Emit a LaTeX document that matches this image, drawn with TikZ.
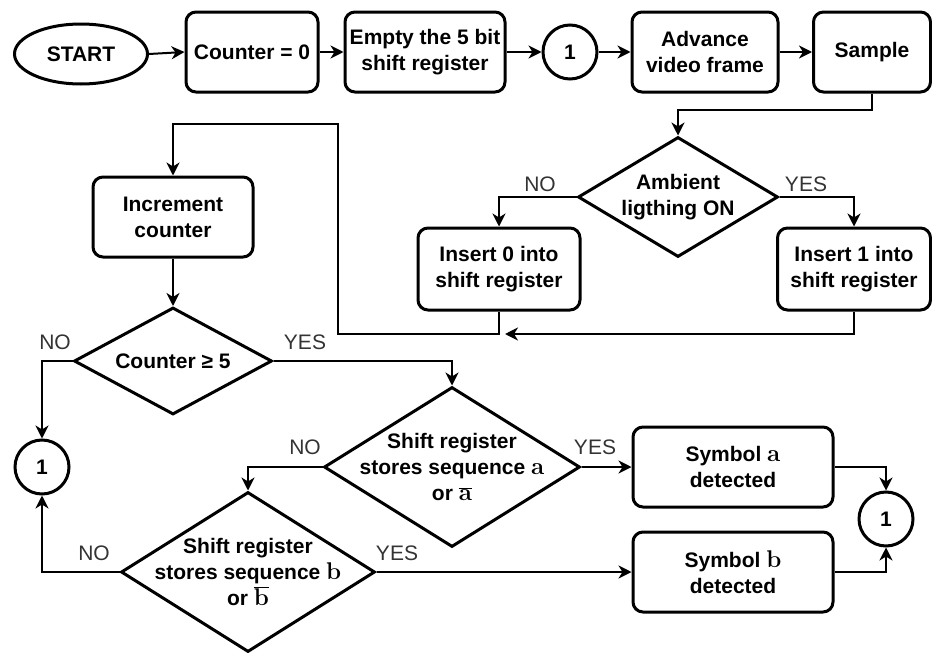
\RequirePackage{fix-cm}
\documentclass[tikz,border=0pt]{standalone}
\usepackage[no-math]{fontspec}
\setmainfont{Liberation Sans}
\newfontfamily\lmrom[Scale=1.15]{Latin Modern Roman}
\newcommand{\symA}{{\lmrom\bfseries a}}
\newcommand{\symB}{{\lmrom\bfseries b}}
\usetikzlibrary{shapes.geometric,arrows.meta}
\begin{document}
\begin{tikzpicture}[x=1pt,y=-1pt,
  bigfont/.style={font=\bfseries\fontsize{21}{26}\selectfont},
  box/.style={draw, line width=3pt, rounded corners=10pt, align=center, bigfont, inner sep=0pt, minimum height=80pt},
  dia/.style={draw, diamond, line width=3pt, inner sep=0pt},
  dtext/.style={align=center, bigfont, inner sep=0pt},
  circ/.style={draw, circle, line width=3pt, minimum size=54pt, inner sep=0pt, bigfont},
  conn/.style={line width=2pt, -{Stealth[length=13pt,width=13pt,inset=4pt]}},
  lbl/.style={font=\fontsize{21}{26}\selectfont, text=black!80, inner sep=0pt}
]
\useasboundingbox (0,0) rectangle (932,653);

% top row
\node[draw, ellipse, line width=3pt, minimum width=133pt, minimum height=60pt, bigfont, inner sep=0pt] (start) at (81,54) {START};
\node[box, minimum width=132pt] (c0) at (252,52) {Counter = 0};
\node[box, minimum width=160pt] (empty) at (425,52) {Empty the 5 bit\\shift register};
\node[circ] (k1) at (570,52) {1};
\node[box, minimum width=146pt] (adv) at (705,52) {Advance\\video frame};
\node[box, minimum width=117pt] (sample) at (872,52) {Sample};

% ambient decision
\node[dia, minimum width=200pt, minimum height=120pt] (amb) at (678,197) {};
\node[dtext] (ambT) at (amb.center) {Ambient\\ligthing ON};
\node[box, minimum width=162pt, minimum height=82pt] (in0) at (499,269) {Insert 0 into\\shift register};
\node[box, minimum width=153pt, minimum height=82pt] (in1) at (854,269) {Insert 1 into\\shift register};

% increment
\node[box, minimum width=160pt] (inc) at (173,217) {Increment\\counter};
\node[dia, minimum width=198pt, minimum height=107pt] (cnt) at (173,361) {};
\node[dtext] (cntT) at (cnt.center) {Counter ≥ 5};

% connector circles
\node[circ] (kL) at (42,467) {1};
\node[circ] (kR) at (886,519) {1};

% sequence decisions
\node[dia, minimum width=256pt, minimum height=160pt] (da) at (452,467) {};
\node[dtext] (daT) at (da.center) {Shift register\\stores sequence \symA\\or $\overline{\hbox{\symA}}$};
\node[dia, minimum width=254pt, minimum height=160pt] (db) at (248,572) {};
\node[dtext] (dbT) at (db.center) {Shift register\\stores sequence \symB\\or $\overline{\hbox{\symB}}$};

\node[box, minimum width=200pt] (syma) at (733,467) {Symbol \symA\\detected};
\node[box, minimum width=200pt] (symb) at (733,572) {Symbol \symB\\detected};

% coordinates
\coordinate (s1) at (872,110);
\coordinate (m1) at (505,334);
\coordinate (lp1) at (338,334);
\coordinate (lp2) at (173,124);

% edges
\draw[conn] (start.east) -- (c0.west);
\draw[conn] (c0.east) -- (empty.west);
\draw[conn] (empty.east) -- (k1.west);
\draw[conn] (k1.east) -- (adv.west);
\draw[conn] (adv.east) -- (sample.west);
\draw[conn] (sample.south) -- (s1) -| (amb.north);
\draw[conn] (amb.west) -| (in0.north);
\draw[conn] (amb.east) -| (in1.north);
\draw[conn] (in1.south) |- (m1);
\draw[conn] (in0.south) |- (lp1) |- (lp2) -- (inc.north);
\draw[conn] (inc.south) -- (cnt.north);
\draw[conn] (cnt.west) -| (kL.north);
\draw[conn] (cnt.east) -| (da.north);
\draw[conn] (da.west) -| (db.north);
\draw[conn] (db.west) -| (kL.south);
\draw[conn] (da.east) -- (syma.west);
\draw[conn] (db.east) -- (symb.west);
\draw[conn] (syma.east) -| (kR.north);
\draw[conn] (symb.east) -| (kR.south);

% labels
\node[lbl] (l1) at (540,184) {NO};
\node[lbl] (l2) at (806,184) {YES};
\node[lbl] (l3) at (55,342) {NO};
\node[lbl] (l4) at (305,342) {YES};
\node[lbl] (l5) at (305,447) {NO};
\node[lbl] (l6) at (595,447) {YES};
\node[lbl] (l7) at (94,553) {NO};
\node[lbl] (l8) at (397,553) {YES};
\end{tikzpicture}
\end{document}
